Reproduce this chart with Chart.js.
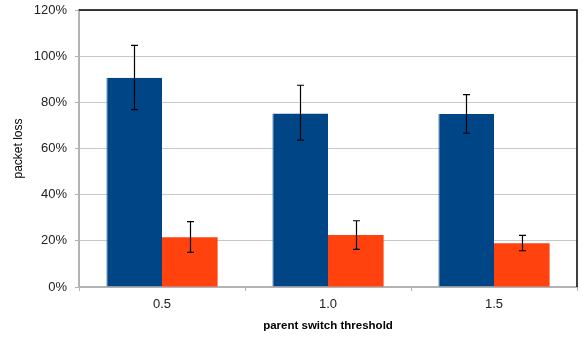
<!DOCTYPE html>
<html>
<head>
<meta charset="utf-8">
<script src="https://cdn.jsdelivr.net/npm/chart.js@4"></script>
<style>
  html, body { margin: 0; padding: 0; background: #fff; }
  #wrap { width: 583px; height: 337px; }
</style>
</head>
<body>
<div id="wrap"><canvas id="chart" width="583" height="337"></canvas></div>
<script>
const thresholds = ["0.5", "1.0", "1.5"];
const blueLoss = [90.7, 75.2, 75.0];
const blueErrHi = [104.7, 87.4, 83.3];
const blueErrLo = [76.8, 63.6, 66.6];
const orangeLoss = [21.5, 22.5, 18.9];
const orangeErrHi = [28.3, 28.7, 22.4];
const orangeErrLo = [15.0, 16.3, 15.7];
const yTicks = [0, 20, 40, 60, 80, 100, 120];

const errorBars = {
  id: "errorBars",
  afterDatasetsDraw(chart) {
    const ctx = chart.ctx;
    const y = chart.scales.y;
    ctx.save();
    ctx.strokeStyle = "#000";
    ctx.lineWidth = 1.2;
    chart.data.datasets.forEach((ds, i) => {
      const meta = chart.getDatasetMeta(i);
      meta.data.forEach((bar, j) => {
        const x = Math.round(bar.x) + 0.5;
        const top = y.getPixelForValue(ds.errHi[j]);
        const bot = y.getPixelForValue(ds.errLo[j]);
        ctx.beginPath();
        ctx.moveTo(x, top); ctx.lineTo(x, bot);
        ctx.moveTo(x - 3.5, top); ctx.lineTo(x + 3.5, top);
        ctx.moveTo(x - 3.5, bot); ctx.lineTo(x + 3.5, bot);
        ctx.stroke();
      });
    });
    ctx.restore();
  }
};

const frame = {
  id: "frame",
  afterDraw(chart) {
    const a = chart.chartArea;
    const ctx = chart.ctx;
    ctx.save();
    ctx.strokeStyle = "#000";
    ctx.lineWidth = 1.5;
    ctx.beginPath();
    ctx.moveTo(a.left, a.top);
    ctx.lineTo(a.right, a.top);
    ctx.lineTo(a.right, a.bottom);
    ctx.stroke();
    ctx.restore();
  }
};

new Chart(document.getElementById("chart"), {
  type: "bar",
  data: {
    labels: thresholds,
    datasets: [
      {
        data: blueLoss,
        errHi: blueErrHi,
        errLo: blueErrLo,
        backgroundColor: "#004586",
        borderColor: "#3d6fa3",
        borderWidth: { left: 1, right: 0, top: 0, bottom: 0 },
      },
      {
        data: orangeLoss,
        errHi: orangeErrHi,
        errLo: orangeErrLo,
        backgroundColor: "#ff420e",
      },
    ],
  },
  options: {
    responsive: false,
    animation: false,
    devicePixelRatio: 1,
    layout: { padding: { left: 11, right: 6, top: 10, bottom: 0 } },
    plugins: { legend: { display: false }, tooltip: { enabled: false } },
    datasets: { bar: { categoryPercentage: 0.67, barPercentage: 1 } },
    scales: {
      x: {
        afterFit(s) { s.height = 50; s.paddingLeft = 0; s.paddingRight = 0; },
        grid: { drawOnChartArea: false, offset: true, tickLength: 4, color: "#b3b3b3", lineWidth: 1 },
        border: { color: "#b3b3b3", width: 2 },
        ticks: { color: "#222", padding: 6, font: { family: "Liberation Sans", size: 13 } },
        title: {
          display: true,
          text: "parent switch threshold",
          color: "#000",
          padding: { top: 3, bottom: 4 },
          font: { family: "Liberation Sans", size: 11.5, weight: "bold" },
        },
      },
      y: {
        min: 0,
        max: 120,
        afterFit(s) { s.width = 68; s.paddingTop = 0; s.paddingBottom = 0; },
        afterBuildTicks(s) { s.ticks = yTicks.map(v => ({ value: v })); },
        grid: { color: "#c8c8c8", lineWidth: 1, tickLength: 4, tickColor: "#b3b3b3" },
        border: { color: "#b3b3b3", width: 2 },
        ticks: {
          color: "#222",
          padding: 8,
          font: { family: "Liberation Sans", size: 13 },
          callback: v => v + "%",
        },
        title: {
          display: true,
          text: "packet loss",
          color: "#000",
          padding: { top: 0, bottom: 4 },
          font: { family: "Liberation Sans", size: 12 },
        },
      },
    },
  },
  plugins: [errorBars, frame],
});
</script>
</body>
</html>
